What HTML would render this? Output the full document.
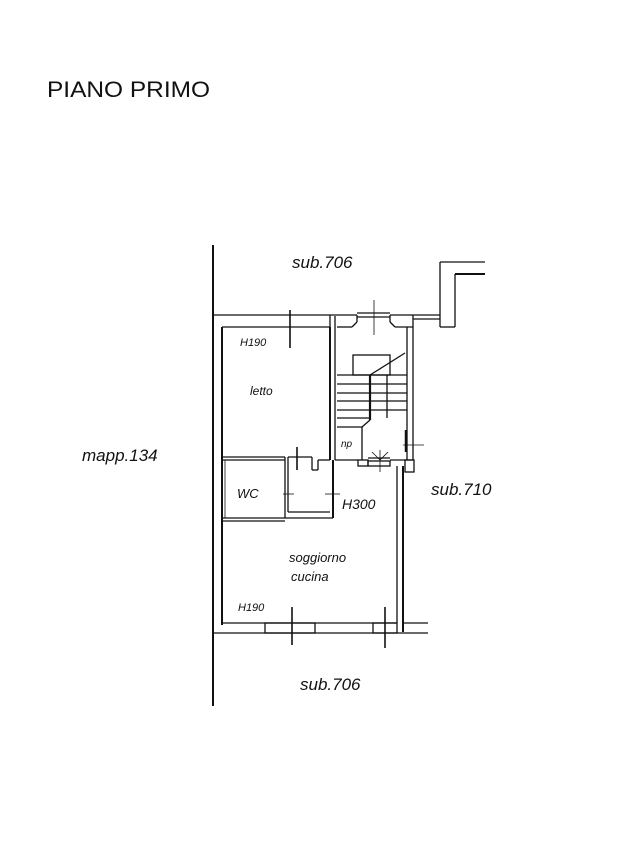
<!DOCTYPE html>
<html><head><meta charset="utf-8"><style>
html,body{margin:0;padding:0;background:#fff;}
svg{display:block;}
text{font-family:"Liberation Sans",sans-serif;fill:#111;}
.it{font-style:italic;}
</style></head><body>
<svg width="634" height="852" viewBox="0 0 634 852" xmlns="http://www.w3.org/2000/svg">
<rect width="634" height="852" fill="#fff"/>
<text x="47" y="97" font-size="22" textLength="163" lengthAdjust="spacingAndGlyphs">PIANO  PRIMO</text>
<g stroke="#111" fill="none" stroke-width="1.3">
<!-- long left line -->
<line x1="213" y1="245" x2="213" y2="706" stroke-width="2"/>
<!-- top wall -->
<line x1="213" y1="315" x2="357" y2="315"/>
<line x1="222" y1="327" x2="330" y2="327"/>
<line x1="330" y1="315" x2="330" y2="327"/>
<line x1="335" y1="316" x2="335" y2="460"/>
<line x1="330" y1="327" x2="330" y2="460" stroke-width="2"/>
<line x1="357" y1="315" x2="357" y2="322"/><line x1="357" y1="322" x2="352" y2="327"/><line x1="337" y1="327" x2="352" y2="327"/>
<line x1="357" y1="313" x2="390" y2="313"/><line x1="357" y1="317" x2="390" y2="317"/>
<line x1="390" y1="315" x2="390" y2="322"/><line x1="390" y1="322" x2="395" y2="327"/><line x1="395" y1="327" x2="413" y2="327"/>
<line x1="390" y1="315" x2="440" y2="315"/>
<line x1="413" y1="327" x2="413" y2="315"/>
<line x1="413" y1="319" x2="440" y2="319"/>
<line x1="440" y1="262" x2="440" y2="327"/>
<line x1="440" y1="262" x2="485" y2="262"/>
<line x1="455" y1="274" x2="485" y2="274" stroke-width="2"/>
<line x1="455" y1="274" x2="455" y2="327"/>
<line x1="440" y1="327" x2="455" y2="327"/>
<line x1="290" y1="310" x2="290" y2="348" stroke-width="1.6"/>
<line x1="374" y1="300" x2="374" y2="335" stroke-width="0.8"/>
<!-- left inner wall -->
<line x1="222" y1="327" x2="222" y2="625" stroke-width="2"/>
<!-- lotto bottom -->
<line x1="222" y1="457" x2="285" y2="457"/>
<line x1="222" y1="460" x2="285" y2="460"/>
<line x1="285" y1="457" x2="285" y2="518"/>
<line x1="288" y1="457" x2="288" y2="512"/>
<line x1="288" y1="512" x2="330" y2="512"/>
<line x1="285" y1="518" x2="333" y2="518"/>
<line x1="333" y1="460" x2="333" y2="518" stroke-width="2"/>
<line x1="288" y1="457" x2="312" y2="457"/><line x1="312" y1="457" x2="312" y2="470"/><line x1="312" y1="470" x2="318" y2="470"/><line x1="318" y1="470" x2="318" y2="460"/><line x1="318" y1="460" x2="330" y2="460"/>
<line x1="297" y1="447" x2="297" y2="470" stroke-width="1.6"/>
<line x1="283" y1="494" x2="294" y2="494" stroke-width="0.8"/>
<line x1="325" y1="494" x2="340" y2="494" stroke-width="0.8"/>
<line x1="333" y1="485" x2="333" y2="500" stroke-width="1.6"/>
<!-- WC -->
<line x1="222" y1="518" x2="285" y2="518"/>
<line x1="222" y1="521" x2="285" y2="521"/>
<line x1="225" y1="460" x2="225" y2="518" stroke-width="0.8"/>
<!-- stairs -->
<rect x="353" y="355" width="37" height="20"/>
<line x1="337" y1="375" x2="407" y2="375"/>
<line x1="337" y1="384" x2="407" y2="384"/>
<line x1="337" y1="393" x2="407" y2="393"/>
<line x1="337" y1="401" x2="407" y2="401"/>
<line x1="337" y1="410" x2="407" y2="410"/>
<line x1="337" y1="418" x2="370" y2="418"/>
<line x1="370" y1="375" x2="370" y2="420" stroke-width="2.2"/>
<line x1="387" y1="375" x2="387" y2="418"/>
<line x1="370" y1="375" x2="405" y2="353"/>
<line x1="337" y1="427" x2="362" y2="427"/><line x1="362" y1="427" x2="362" y2="460"/>
<line x1="362" y1="427" x2="370" y2="420"/>
<line x1="407" y1="327" x2="407" y2="460"/>
<line x1="413" y1="327" x2="413" y2="460"/>
<line x1="406" y1="430" x2="406" y2="452" stroke-width="2.5"/>
<line x1="403" y1="445" x2="424" y2="445" stroke-width="0.8"/>
<line x1="335" y1="460" x2="358" y2="460"/>
<rect x="358" y="460" width="10" height="6"/>
<rect x="368" y="461" width="22" height="5"/>
<line x1="368" y1="458" x2="390" y2="458"/>
<line x1="380" y1="450" x2="380" y2="472" stroke-width="0.8"/>
<line x1="372" y1="452" x2="380" y2="460" stroke-width="0.8"/><line x1="388" y1="452" x2="380" y2="460" stroke-width="0.8"/>
<rect x="405" y="460" width="9" height="12"/>
<line x1="390" y1="460" x2="413" y2="460"/>
<!-- right wall soggiorno -->
<line x1="397" y1="466" x2="397" y2="623"/>
<line x1="403" y1="466" x2="403" y2="632" stroke-width="2"/>
<!-- bottom wall -->
<line x1="222" y1="623" x2="397" y2="623"/>
<line x1="213" y1="633" x2="428" y2="633"/>
<rect x="265" y="623" width="50" height="10"/>
<rect x="373" y="623" width="24" height="10"/>
<line x1="403" y1="623" x2="428" y2="623"/>
<line x1="292" y1="607" x2="292" y2="645" stroke-width="1.6"/>
<line x1="385" y1="607" x2="385" y2="648" stroke-width="1.6"/>
</g>
<text class="it" x="292" y="268" font-size="17">sub.706</text>
<text class="it" x="82" y="461" font-size="17">mapp.134</text>
<text class="it" x="431" y="495" font-size="17">sub.710</text>
<text class="it" x="300" y="690" font-size="17">sub.706</text>
<text class="it" x="240" y="346" font-size="11">H190</text>
<text class="it" x="250" y="395" font-size="12">letto</text>
<text class="it" x="341" y="447" font-size="10">np</text>
<text class="it" x="237" y="498" font-size="13">WC</text>
<text class="it" x="342" y="509" font-size="14">H300</text>
<text class="it" x="289" y="562" font-size="13">soggiorno</text>
<text class="it" x="291" y="581" font-size="13">cucina</text>
<text class="it" x="238" y="611" font-size="11">H190</text>
</svg>
</body></html>
